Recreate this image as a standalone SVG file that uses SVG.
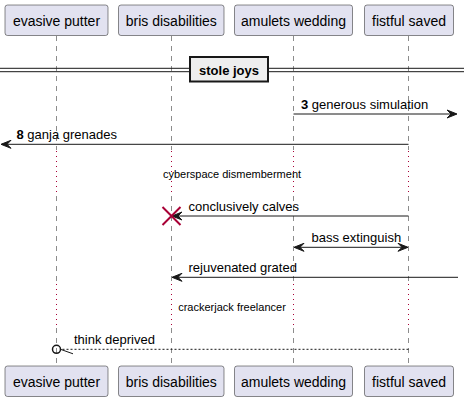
<svg xmlns="http://www.w3.org/2000/svg" width="464" height="403" viewBox="0 0 464 403">
<style>
.box{fill:#E2E2F0;stroke:#181818;stroke-width:0.5}
.pt{font-family:"Liberation Sans",Arial,sans-serif;font-size:14px;fill:#000;text-anchor:middle}
.life{stroke:#181818;stroke-width:0.5;stroke-dasharray:5,5;fill:none}
.dly{stroke:#A80036;stroke-width:1;stroke-dasharray:1,4;fill:none}
.msg{stroke:#181818;stroke-width:1;fill:none}
.ah{fill:#181818;stroke:#181818;stroke-width:1}
.mt{font-family:"Liberation Sans",Arial,sans-serif;font-size:13px;fill:#000}
.dt{font-family:"Liberation Sans",Arial,sans-serif;font-size:11px;fill:#000;text-anchor:middle}
</style>
<g id="lifelines">
<path class="life" d="M56.5,36 V150 M56.5,196 V283 M56.5,328 V366"/>
<path class="life" d="M171.5,36 V150 M171.5,196 V283 M171.5,328 V366"/>
<path class="life" d="M293.5,36 V150 M293.5,196 V283 M293.5,328 V366"/>
<path class="life" d="M408.5,36 V150 M408.5,196 V283 M408.5,328 V366"/>
<path class="dly" d="M56.5,151 V196 M171.5,151 V196 M293.5,151 V196 M408.5,151 V196"/>
<path class="dly" d="M56.5,284 V328 M171.5,284 V328 M293.5,284 V328 M408.5,284 V328"/>
</g>
<g id="evasive-putter">
<rect class="box" x="5" y="5" width="103" height="30.5" rx="2.5"/>
<text class="pt" x="56.5" y="26">evasive putter</text>
<rect class="box" x="5" y="366" width="103" height="30.5" rx="2.5"/>
<text class="pt" x="56.5" y="387">evasive putter</text>
</g>
<g id="bris-disabilities">
<rect class="box" x="118.5" y="5" width="105.5" height="30.5" rx="2.5"/>
<text class="pt" x="171.3" y="26">bris disabilities</text>
<rect class="box" x="118.5" y="366" width="105.5" height="30.5" rx="2.5"/>
<text class="pt" x="171.3" y="387">bris disabilities</text>
</g>
<g id="amulets-wedding">
<rect class="box" x="234.5" y="5" width="118" height="30.5" rx="2.5"/>
<text class="pt" x="293.5" y="26">amulets wedding</text>
<rect class="box" x="234.5" y="366" width="118" height="30.5" rx="2.5"/>
<text class="pt" x="293.5" y="387">amulets wedding</text>
</g>
<g id="fistful-saved">
<rect class="box" x="364.5" y="5" width="89" height="30.5" rx="2.5"/>
<text class="pt" x="409" y="26">fistful saved</text>
<rect class="box" x="364.5" y="366" width="89" height="30.5" rx="2.5"/>
<text class="pt" x="409" y="387">fistful saved</text>
</g>
<g id="divider">
<line x1="0" y1="68.3" x2="464" y2="68.3" stroke="#181818" stroke-width="1"/>
<line x1="0" y1="71.7" x2="464" y2="71.7" stroke="#181818" stroke-width="1"/>
<rect x="190" y="57" width="78" height="24.5" fill="#EEEEEE" stroke="#181818" stroke-width="2"/>
<text x="229" y="75" font-family="Liberation Sans,Arial,sans-serif" font-size="13" font-weight="bold" text-anchor="middle">stole joys</text>
</g>
<g id="connectors">
<line class="msg" x1="293.5" y1="114" x2="456" y2="114"/>
<path class="ah" d="M457,114 L447,110 L451,114 L447,118 Z"/>
<text class="mt" x="301" y="108.5"><tspan font-weight="bold">3</tspan> generous simulation</text>

<line class="msg" x1="408.5" y1="144.3" x2="2" y2="144.3"/>
<path class="ah" d="M1,144.3 L11,140.3 L7,144.3 L11,148.3 Z"/>
<text class="mt" x="16.5" y="139"><tspan font-weight="bold">8</tspan> ganja grenades</text>

<text class="dt" x="232" y="177.5">cyberspace dismemberment</text>

<line class="msg" x1="408.5" y1="216" x2="173" y2="216"/>
<path class="ah" d="M172,216 L182,212 L178,216 L182,220 Z"/>
<path d="M162.5,207 L180.5,225 M162.5,225 L180.5,207" stroke="#A80036" stroke-width="2" fill="none"/>
<text class="mt" x="188.5" y="211">conclusively calves</text>

<line class="msg" x1="295" y1="247.3" x2="407" y2="247.3"/>
<path class="ah" d="M294,247.3 L304,243.3 L300,247.3 L304,251.3 Z"/>
<path class="ah" d="M408,247.3 L398,243.3 L402,247.3 L398,251.3 Z"/>
<text class="mt" x="311.5" y="242">bass extinguish</text>

<line class="msg" x1="458" y1="277.3" x2="173" y2="277.3"/>
<path class="ah" d="M172,277.3 L182,273.3 L178,277.3 L182,281.3 Z"/>
<text class="mt" x="188.5" y="272">rejuvenated grated</text>

<text class="dt" x="232" y="311">crackerjack freelancer</text>

<line x1="408.5" y1="349.3" x2="61" y2="349.3" stroke="#181818" stroke-width="1" stroke-dasharray="2,2"/>
<circle cx="56.5" cy="349.3" r="4" fill="none" stroke="#181818" stroke-width="1.5"/>
<line x1="60.5" y1="349.3" x2="73" y2="353.8" stroke="#181818" stroke-width="1"/>
<text class="mt" x="74" y="344">think deprived</text>
</g>
</svg>
